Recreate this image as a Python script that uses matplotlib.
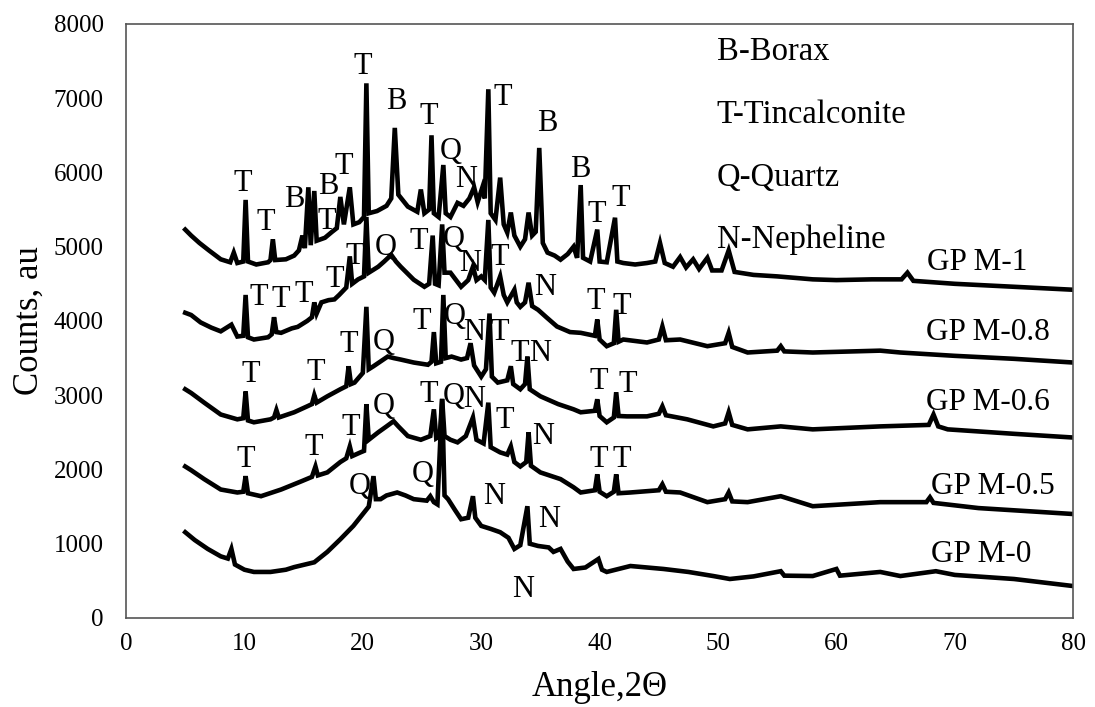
"XRD patterns of GP M samples"

import numpy as np
import matplotlib.pyplot as plt

plt.rcParams['font.family'] = ['Liberation Serif', 'DejaVu Serif']

# angle (2theta) and counts, one pair of lists per sample
m1_x = [5.0, 5.5, 6.2, 7.0, 8.0, 8.8, 9.1, 9.4, 9.9, 10.1, 10.3, 11.0, 12.0, 12.2, 12.4, 12.6, 13.5, 14.2, 14.6, 14.9,
        15.1, 15.4, 15.6, 15.9, 16.1, 16.8, 17.4, 17.8, 18.1, 18.4, 18.9, 19.2, 19.7, 20.1, 20.3, 20.5, 21.2, 22.0, 22.4,
        22.7, 23.0, 23.8, 24.6, 24.9, 25.2, 25.6, 25.8, 26.0, 26.4, 26.8, 27.0, 27.4, 28.0, 28.5, 29.0, 29.4, 29.7, 30.1,
        30.3, 30.6, 30.8, 31.2, 31.6, 31.9, 32.2, 32.5, 32.8, 33.3, 33.7, 34.0, 34.3, 34.6, 34.9, 35.2, 35.6, 36.2, 36.7,
        37.3, 37.8, 38.1, 38.4, 38.6, 39.2, 39.8, 40.0, 40.6, 41.3, 41.5, 42.0, 43.0, 44.0, 44.7, 45.1, 45.5, 46.2, 46.8,
        47.3, 47.9, 48.4, 49.1, 49.5, 50.3, 50.9, 51.4, 53.0, 55.0, 58.0, 60.0, 63.0, 65.5, 66.0, 66.5, 70.0, 75.0, 80.0]
m1_y = [5230, 5150, 5050, 4950, 4830, 4790, 4920, 4780, 4800, 5630, 4800, 4760, 4790, 4820, 5100, 4820, 4830, 4880, 4950, 5150,
        4980, 5800, 5020, 5750, 5080, 5120, 5200, 5250, 5670, 5300, 5800, 5300, 5330, 5400, 7200, 5450, 5480, 5550, 5650,
        6600, 5700, 5540, 5470, 5770, 5450, 5500, 6500, 5450, 5400, 6100, 5450, 5400, 5590, 5550, 5650, 5800, 5600, 5800,
        5650, 7120, 5450, 5360, 5930, 5300, 5190, 5460, 5150, 5000, 5100, 5460, 5150, 5200, 6330, 5050, 4920, 4880, 4825,
        4900, 5000, 4850, 5830, 4850, 4800, 5230, 4800, 4790, 5390, 4800, 4780, 4760, 4780, 4800, 5050, 4780, 4730, 4860,
        4720, 4830, 4700, 4850, 4680, 4680, 4950, 4660, 4620, 4600, 4560, 4550, 4560, 4560, 4650, 4540, 4500, 4460, 4420]

m08_x = [5.0, 5.5, 6.3, 7.2, 8.0, 8.9, 9.4, 9.9, 10.1, 10.3, 10.8, 12.0, 12.3, 12.5, 12.7, 13.1, 14.0, 14.5, 15.3, 15.7,
         15.9, 16.1, 16.5, 17.1, 17.6, 18.0, 18.3, 18.6, 18.9, 19.1, 19.6, 20.1, 20.3, 20.5, 21.3, 21.8, 22.4, 22.8, 23.2,
         24.3, 25.2, 25.6, 25.9, 26.1, 26.4, 26.7, 26.9, 27.4, 28.3, 28.9, 29.3, 29.6, 30.0, 30.3, 30.6, 30.8, 31.1, 31.6,
         31.9, 32.2, 32.8, 33.0, 33.3, 33.7, 34.0, 34.3, 34.8, 35.5, 36.4, 37.5, 38.4, 39.6, 39.8, 40.0, 40.6, 41.2, 41.4,
         41.6, 42.0, 44.0, 45.0, 45.3, 45.6, 46.8, 49.1, 50.6, 50.9, 51.2, 52.5, 55.0, 55.3, 55.6, 58.0, 63.7, 65.4, 70.0,
         75.0, 80.0]
m08_y = [4110, 4080, 3980, 3910, 3860, 3950, 3790, 3800, 4350, 3780, 3750, 3780, 3820, 4050, 3850, 3840, 3900, 3920, 4000, 4050,
         4250, 4100, 4250, 4280, 4290, 4350, 4400, 4450, 4870, 4500, 4560, 4600, 5400, 4650, 4730, 4800, 4890, 4800, 4730,
         4555, 4460, 4500, 5150, 4500, 4480, 5300, 4650, 4650, 4460, 4550, 4730, 4550, 4600, 4550, 5360, 4450, 4380, 4600,
         4350, 4250, 4420, 4250, 4190, 4250, 4515, 4200, 4150, 4050, 3925, 3850, 3840, 3800, 4020, 3750, 3660, 3700, 4150,
         3720, 3750, 3710, 3750, 3925, 3740, 3750, 3660, 3700, 3840, 3650, 3575, 3600, 3660, 3590, 3575, 3600, 3575, 3530,
         3490, 3440]

m06_x = [5.0, 5.5, 6.6, 8.0, 9.4, 9.9, 10.1, 10.3, 10.8, 12.2, 12.5, 12.7, 12.9, 14.2, 15.3, 15.7, 15.9, 16.1, 17.0, 18.1,
         18.6, 18.8, 19.0, 19.3, 20.0, 20.3, 20.5, 20.9, 22.1, 22.6, 23.2, 24.3, 25.5, 25.8, 26.0, 26.2, 26.6, 26.8, 27.0,
         27.5, 28.3, 28.8, 29.1, 29.4, 30.0, 30.4, 30.7, 30.9, 31.4, 32.2, 32.5, 32.7, 33.3, 33.7, 33.9, 34.1, 35.0, 36.5,
         37.8, 38.4, 39.6, 39.8, 40.0, 40.6, 41.2, 41.4, 41.6, 42.3, 44.0, 45.0, 45.3, 45.6, 47.4, 49.6, 50.6, 50.9, 51.2,
         52.5, 55.3, 58.0, 63.7, 67.8, 68.2, 68.6, 69.4, 75.0, 80.0]
m06_y = [3080, 3030, 2900, 2740, 2675, 2690, 3050, 2660, 2635, 2675, 2700, 2800, 2700, 2770, 2850, 2880, 3000, 2900, 2985, 3080,
         3120, 3390, 3150, 3170, 3300, 4190, 3350, 3390, 3520, 3500, 3480, 3440, 3410, 3450, 3850, 3430, 3450, 4350, 3500,
         3520, 3480, 3500, 3700, 3400, 3250, 3350, 4100, 3250, 3170, 3200, 3390, 3150, 3080, 3150, 3520, 3080, 2985, 2880,
         2810, 2770, 2790, 2945, 2720, 2635, 2700, 3040, 2720, 2715, 2715, 2750, 2850, 2730, 2675, 2580, 2620, 2770, 2600,
         2540, 2580, 2540, 2580, 2600, 2740, 2580, 2540, 2480, 2430]

m05_x = [5.0, 5.5, 6.6, 8.0, 9.4, 9.9, 10.1, 10.3, 11.4, 13.1, 14.8, 15.7, 16.0, 16.2, 17.0, 18.1, 18.6, 18.9, 19.1, 19.8,
         20.1, 20.3, 20.5, 21.3, 22.0, 22.6, 23.0, 23.8, 24.9, 25.7, 26.0, 26.2, 26.5, 26.7, 26.9, 27.4, 28.0, 28.7, 29.3,
         29.6, 30.2, 30.6, 30.8, 31.6, 32.2, 32.5, 32.8, 33.3, 33.8, 34.0, 34.2, 35.0, 36.7, 37.8, 38.4, 39.6, 39.8, 40.0,
         40.6, 41.2, 41.4, 41.6, 42.6, 45.0, 45.3, 45.6, 46.8, 49.1, 50.6, 50.9, 51.2, 52.5, 55.3, 58.0, 63.7, 65.4, 67.6,
         67.9, 68.2, 72.0, 80.0]
m05_y = [2040, 1990, 1870, 1730, 1690, 1700, 1910, 1680, 1640, 1730, 1840, 1900, 2040, 1920, 1960, 2100, 2150, 2310, 2180, 2230,
         2250, 2880, 2400, 2500, 2580, 2650, 2580, 2450, 2400, 2450, 2810, 2420, 2450, 2950, 2450, 2400, 2365, 2450, 2700,
         2400, 2350, 2900, 2300, 2230, 2200, 2310, 2100, 2040, 2100, 2500, 2050, 1960, 1870, 1760, 1690, 1720, 1935, 1700,
         1640, 1700, 1935, 1680, 1690, 1720, 1800, 1700, 1690, 1560, 1600, 1690, 1570, 1560, 1640, 1505, 1560, 1560, 1560,
         1625, 1550, 1480, 1400]

m0_x = [5.0, 5.8, 6.9, 8.0, 8.6, 8.9, 9.2, 10.0, 10.8, 12.2, 13.5, 14.2, 15.9, 17.0, 18.1, 19.2, 20.1, 20.5, 20.9, 21.1,
        21.5, 22.0, 22.9, 23.6, 24.3, 25.4, 25.7, 26.0, 26.3, 26.7, 26.9, 27.2, 27.8, 28.3, 28.9, 29.3, 29.5, 30.0, 30.8,
        31.6, 32.3, 32.8, 33.3, 33.9, 34.1, 34.8, 35.7, 36.1, 36.7, 37.3, 37.8, 38.8, 39.9, 40.2, 40.6, 42.6, 45.4, 47.5,
        49.6, 51.0, 53.0, 55.3, 55.6, 58.0, 60.0, 60.3, 63.7, 65.4, 68.4, 70.0, 75.0, 80.0]
m0_y = [1155, 1050, 930, 830, 800, 930, 720, 650, 620, 620, 650, 685, 750, 890, 1060, 1240, 1420, 1500, 1910, 1600,
        1600, 1650, 1690, 1650, 1600, 1580, 1640, 1560, 1530, 2950, 1650, 1600, 1450, 1330, 1350, 1640, 1350, 1240, 1200,
        1155, 1080, 930, 980, 1505, 1000, 970, 950, 890, 930, 760, 660, 680, 795, 650, 620, 700, 660, 620,
        565, 525, 560, 630, 570, 565, 660, 570, 620, 565, 630, 580, 525, 430]

# sample names and where they sit
names = ['GP M-1', 'GP M-0.8', 'GP M-0.6', 'GP M-0.5', 'GP M-0']
name_x = [71.9, 72.8, 72.8, 73.2, 72.2]
name_y = [4785, 3845, 2900, 1775, 860]

# phase legend
key_text = ['B-Borax', 'T-Tincalconite', 'Q-Quartz', 'N-Nepheline']
key_y = [7620, 6775, 5925, 5095]

# peak letters
peak_lab = ['T', 'T', 'B', 'B', 'T', 'T', 'T', 'B', 'T', 'Q', 'N', 'T', 'B', 'B', 'T', 'T',
            'T', 'T', 'T', 'T', 'T', 'Q', 'T', 'Q', 'N', 'T', 'N', 'T', 'T',
            'T', 'T', 'T', 'Q', 'T', 'Q', 'N', 'T', 'T', 'N', 'T', 'T',
            'T', 'T', 'T', 'Q', 'T', 'Q', 'N', 'T', 'N', 'T', 'T',
            'Q', 'Q', 'N', 'N', 'N']
peak_x = [9.85, 11.8, 14.2, 17.1, 17.0, 18.4, 20.0, 22.8, 25.6, 27.4, 28.7, 31.8, 35.6, 38.4, 39.8, 41.8,
          11.2, 13.1, 15.0, 17.6, 19.3, 21.9, 24.7, 27.7, 29.1, 31.6, 35.4, 39.7, 41.9,
          10.5, 16.0, 18.8, 21.8, 25.0, 27.8, 29.4, 31.6, 33.3, 35.0, 39.9, 42.4,
          10.1, 15.9, 19.0, 21.8, 25.6, 27.7, 29.4, 32.0, 35.2, 39.9, 41.9,
          19.7, 25.1, 31.1, 35.7, 33.5]
peak_y = [5855, 5320, 5630, 5810, 5340, 6075, 7420, 6950, 6750, 6280, 5900, 7015, 6665, 6035, 5430, 5655,
          4315, 4290, 4355, 4555, 4870, 4985, 5070, 5095, 4780, 4850, 4450, 4260, 4195,
          3280, 3305, 3680, 3710, 3990, 4060, 3845, 3845, 3560, 3560, 3185, 3145,
          2135, 2300, 2565, 2850, 3010, 2985, 2945, 2660, 2445, 2135, 2135,
          1775, 1935, 1640, 1330, 390]

fig = plt.figure(figsize=(10.95, 7.07), dpi=100)
ax = fig.add_axes([0.1151, 0.1259, 0.865, 0.8403])

for xs, ys in [(m1_x, m1_y), (m08_x, m08_y), (m06_x, m06_y), (m05_x, m05_y), (m0_x, m0_y)]:
    ax.plot(xs, ys, color='black', lw=3.3, solid_joinstyle='miter')

for t, x, y in zip(names, name_x, name_y):
    ax.text(x, y, t, fontsize=22.5, ha='center', va='center')
for t, y in zip(key_text, key_y):
    ax.text(49.9, y, t, fontsize=23.5, ha='left', va='center')
for t, x, y in zip(peak_lab, peak_x, peak_y):
    ax.text(x, y, t, fontsize=22, ha='center', va='center')

ax.set_xlim(0, 80)
ax.set_ylim(0, 8000)
ax.set_xticks(np.arange(0, 81, 10))
ax.set_yticks(np.arange(0, 8001, 1000))
ax.tick_params(length=0, labelsize=18)
ax.tick_params(axis='x', pad=11)
ax.tick_params(axis='y', pad=16)
for s in ax.spines.values():
    s.set_color('#555555')
    s.set_linewidth(1.2)

ax.set_xlabel('Angle,2Θ', fontsize=25)
ax.set_ylabel('Counts, au', fontsize=25)
ax.xaxis.set_label_coords(0.5, -0.09)
ax.yaxis.set_label_coords(-0.085, 0.5)

fig.savefig('out.png', dpi=100)
